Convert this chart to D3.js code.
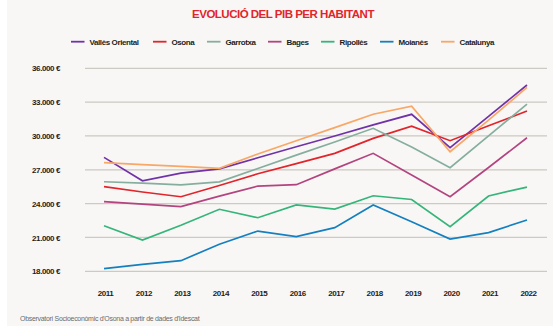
<!DOCTYPE html>
<html>
<head>
<meta charset="utf-8">
<script src="https://cdn.jsdelivr.net/npm/d3@7"></script>
<style>
  html, body { margin: 0; padding: 0; background: #ffffff; }
  svg { display: block; font-family: "Liberation Sans", Arial, sans-serif; }
</style>
</head>
<body>
<svg id="chart" width="553" height="329"></svg>
<script>
// GDP per capita (€), 2011–2022
const years = [2011, 2012, 2013, 2014, 2015, 2016, 2017, 2018, 2019, 2020, 2021, 2022];

const vallesOriental = [28100, 26030, 26700, 27080, 28070, 29040, 30000, 30980, 31920, 28960, 31740, 34520];
const osona          = [25500, 25030, 24610, 25610, 26650, 27550, 28460, 29790, 30860, 29580, 30900, 32210];
const garrotxa       = [25940, 25810, 25660, 25930, 27110, 28300, 29470, 30680, 29030, 27180, 30000, 32830];
const bages          = [24170, 23950, 23730, 24670, 25560, 25680, 27080, 28460, 26540, 24610, 27200, 29840];
const ripolles       = [22040, 20770, 22090, 23500, 22750, 23880, 23520, 24700, 24370, 21950, 24680, 25470];
const moianes        = [18230, 18610, 18940, 20400, 21570, 21070, 21870, 23880, 22390, 20860, 21430, 22550];
const catalunya      = [27630, 27460, 27300, 27130, 28400, 29580, 30740, 31930, 32650, 28600, 31400, 34310];

const seriesNames  = ["Vallès Oriental", "Osona", "Garrotxa", "Bages", "Ripollès", "Moianès", "Catalunya"];
const seriesValues = [vallesOriental, osona, garrotxa, bages, ripolles, moianes, catalunya];
const seriesColors = ["#7132a8", "#e2242b", "#86ae9f", "#b3447f", "#35b57a", "#1580bf", "#f8a766"];

const yTicks = [18000, 21000, 24000, 27000, 30000, 33000, 36000];

const svg = d3.select("#chart");

// card background
svg.append("rect").attr("x", 7).attr("y", 0).attr("width", 546).attr("height", 326).attr("fill", "#f8f7f5");

const x = d3.scaleLinear().domain([2011, 2022]).range([104, 527]);
const y = d3.scaleLinear().domain([18000, 36000]).range([271.3, 68.3]);

const fmt = v => d3.format(",")(v).replace(/,/g, ".") + " €";

// horizontal gridlines
svg.append("g").selectAll("line").data(yTicks).join("line")
  .attr("x1", 85).attr("x2", 547)
  .attr("y1", d => y(d)).attr("y2", d => y(d))
  .attr("stroke", "#cdc9c3").attr("stroke-width", 1.3);

// y axis labels
const yAxis = d3.axisLeft(y).tickValues(yTicks).tickFormat(fmt).tickSize(0).tickPadding(0);
svg.append("g").attr("transform", "translate(60,0)").call(yAxis)
  .call(g => g.select(".domain").remove())
  .selectAll("text")
  .attr("font-size", 8).attr("font-weight", "bold").attr("letter-spacing", -0.4)
  .attr("fill", "#1d1d1d").attr("font-family", "'Liberation Sans', Arial, sans-serif");

// x axis labels
const xAxis = d3.axisBottom(x).tickValues(years).tickFormat(d3.format("d")).tickSize(0).tickPadding(0);
svg.append("g").attr("transform", "translate(1,290)").call(xAxis)
  .call(g => g.select(".domain").remove())
  .selectAll("text")
  .attr("font-size", 8).attr("font-weight", "bold").attr("letter-spacing", -0.4)
  .attr("fill", "#1d1d1d").attr("font-family", "'Liberation Sans', Arial, sans-serif");

// lines
const line = d3.line().x((d, i) => x(years[i])).y(d => y(d));
svg.append("g").selectAll("path").data(seriesValues).join("path")
  .attr("d", d => line(d))
  .attr("fill", "none")
  .attr("stroke", (d, i) => seriesColors[i])
  .attr("stroke-width", 1.7)
  .attr("stroke-linejoin", "miter");

// title
svg.append("text")
  .attr("x", 283).attr("y", 18)
  .attr("text-anchor", "middle")
  .attr("font-size", 11.5).attr("font-weight", "bold").attr("letter-spacing", -0.5)
  .attr("fill", "#e2242b")
  .text("EVOLUCIÓ DEL PIB PER HABITANT");

// legend
const legendX = [71, 153, 207, 268, 321, 380, 441];
const legend = svg.append("g").selectAll("g").data(seriesNames).join("g")
  .attr("transform", (d, i) => `translate(${legendX[i]},41.7)`);
legend.append("line").attr("x1", 0).attr("x2", 13.5).attr("y1", 0).attr("y2", 0)
  .attr("stroke", (d, i) => seriesColors[i]).attr("stroke-width", 1.8);
legend.append("text").attr("x", 18.5).attr("y", 2.8)
  .attr("font-size", 8).attr("font-weight", "bold").attr("letter-spacing", -0.4)
  .attr("fill", "#1d1d1d")
  .text(d => d);

// source
svg.append("text")
  .attr("x", 20).attr("y", 321)
  .attr("font-size", 7).attr("letter-spacing", -0.3)
  .attr("fill", "#6b6b6b")
  .text("Observatori Socioeconòmic d'Osona a partir de dades d'Idescat");
</script>
</body>
</html>
